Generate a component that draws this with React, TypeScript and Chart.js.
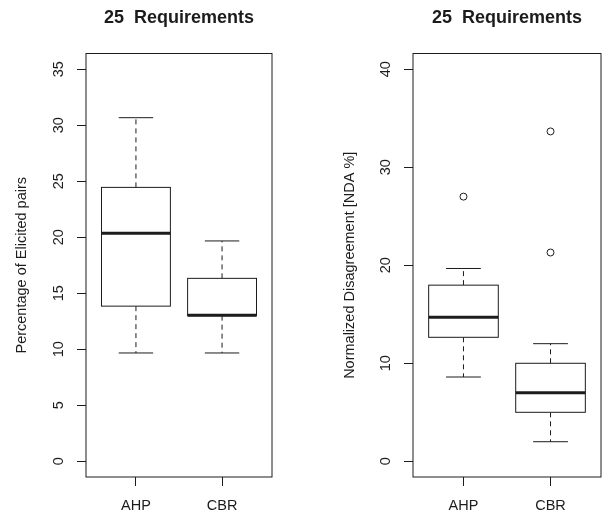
import React, { useEffect, useRef } from 'react';
import { Chart, registerables } from 'chart.js';

Chart.register(...registerables);

const categories = ['AHP', 'CBR'];
const panelTitle = '25  Requirements';

// five-number summaries: [lower whisker, Q1, median, Q3, upper whisker]
const elicitedAHP = [9.67, 13.85, 20.35, 24.45, 30.67];
const elicitedCBR = [9.67, 13.0, 13.03, 16.33, 19.67];
const elicitedOutliersAHP: number[] = [];
const elicitedOutliersCBR: number[] = [];
const elicitedTicks = [0, 5, 10, 15, 20, 25, 30, 35];

const ndaAHP = [8.6, 12.65, 14.7, 17.97, 19.67];
const ndaCBR = [2.0, 5.0, 7.0, 10.0, 12.0];
const ndaOutliersAHP = [27.0];
const ndaOutliersCBR = [21.3, 33.65];
const ndaTicks = [0, 10, 20, 30, 40];

const INK = '#1c1c1c';
const FONT = '"Liberation Sans", Arial, Helvetica, sans-serif';

type Panel = {
  yTitle: string;
  stats: number[][];
  outliers: number[][];
  ticks: number[];
  yWidth: number;
  padRight: number;
  titlePad: number;
};

const boxPlugin = {
  id: 'rbox',
  afterDatasetsDraw(chart: any, _args: any, opts: any) {
    const { ctx, chartArea } = chart;
    const x = chart.scales.x;
    const y = chart.scales.y;
    const stats: number[][] = opts.stats;
    const line = (x1: number, y1: number, x2: number, y2: number) => {
      ctx.beginPath();
      ctx.moveTo(x1, y1);
      ctx.lineTo(x2, y2);
      ctx.stroke();
    };
    ctx.save();
    ctx.strokeStyle = INK;
    ctx.lineWidth = 1;
    stats.forEach((s, i) => {
      const pos = i + 1;
      const xl = x.getPixelForValue(pos - 0.4);
      const xr = x.getPixelForValue(pos + 0.4);
      const xc = x.getPixelForValue(pos);
      const cl = x.getPixelForValue(pos - 0.2);
      const cr = x.getPixelForValue(pos + 0.2);
      const [mn, q1, md, q3, mx] = s.map((v) => y.getPixelForValue(v));
      ctx.setLineDash([5, 4]);
      line(xc, q3, xc, mx);
      line(xc, q1, xc, mn);
      ctx.setLineDash([]);
      line(cl, mx, cr, mx);
      line(cl, mn, cr, mn);
      ctx.fillStyle = '#ffffff';
      ctx.fillRect(xl, q3, xr - xl, q1 - q3);
      ctx.strokeRect(xl, q3, xr - xl, q1 - q3);
      ctx.lineWidth = 3;
      line(xl, md, xr, md);
      ctx.lineWidth = 1;
    });
    ctx.strokeRect(chartArea.left, chartArea.top, chartArea.right - chartArea.left, chartArea.bottom - chartArea.top);
    // rotated y tick labels (R style, las = 0)
    ctx.fillStyle = INK;
    ctx.font = `14.5px ${FONT}`;
    ctx.textAlign = 'center';
    ctx.textBaseline = 'alphabetic';
    (opts.ticks as number[]).forEach((v) => {
      const py = y.getPixelForValue(v);
      const px = chartArea.left - 28 + 0.36 * 14.5;
      ctx.save();
      ctx.translate(px, py);
      ctx.rotate(-Math.PI / 2);
      ctx.fillText(String(v), 0, 0);
      ctx.restore();
    });
    // panel title centred over the plot region
    ctx.font = `bold 18px ${FONT}`;
    ctx.textAlign = 'center';
    ctx.textBaseline = 'alphabetic';
    ctx.fillText(opts.title, (chartArea.left + chartArea.right) / 2, 22.5);
    ctx.restore();
  },
};

function makeChart(canvas: HTMLCanvasElement, p: Panel) {
  const lo = p.ticks[0];
  const hi = p.ticks[p.ticks.length - 1];
  const ext = (hi - lo) * 0.04;
  const outlierData: { x: number; y: number }[] = [];
  p.outliers.forEach((arr, i) => arr.forEach((v) => outlierData.push({ x: i + 1, y: v })));
  return new Chart(canvas, {
    type: 'scatter',
    data: {
      datasets: [
        {
          data: outlierData,
          pointStyle: 'circle',
          pointRadius: 3.5,
          pointBorderWidth: 1,
          pointBorderColor: INK,
          pointBackgroundColor: 'rgba(0,0,0,0)',
        },
      ],
    },
    plugins: [boxPlugin],
    options: {
      responsive: false,
      animation: false,
      events: [],
      layout: { padding: { left: 0, right: p.padRight, top: 53.5, bottom: 0 } },
      plugins: {
        legend: { display: false },
        tooltip: { enabled: false },
        title: { display: false },
        rbox: { stats: p.stats, ticks: p.ticks, title: panelTitle },
      } as any,
      scales: {
        x: {
          type: 'linear',
          min: 0.42,
          max: 2.58,
          afterBuildTicks: (s: any) => {
            s.ticks = categories.map((_, i) => ({ value: i + 1 }));
          },
          afterFit: (s: any) => {
            s.height = 38;
          },
          grid: { display: true, drawOnChartArea: false, drawTicks: true, tickLength: 9, color: INK },
          border: { display: false },
          ticks: {
            callback: (v: any) => categories[Math.round(Number(v)) - 1],
            color: INK,
            font: { family: FONT, size: 14.5 },
            padding: 11,
            autoSkip: false,
            maxRotation: 0,
          },
        },
        y: {
          type: 'linear',
          min: lo - ext,
          max: hi + ext,
          afterBuildTicks: (s: any) => {
            s.ticks = p.ticks.map((v) => ({ value: v }));
          },
          afterFit: (s: any) => {
            s.width = p.yWidth;
          },
          grid: { display: true, drawOnChartArea: false, drawTicks: true, tickLength: 9, color: INK },
          border: { display: false },
          ticks: { display: false },
          title: {
            display: true,
            text: p.yTitle,
            color: INK,
            font: { family: FONT, size: 14.5 },
            padding: { top: p.titlePad, bottom: 0 },
          },
        },
      },
    } as any,
  });
}

export default function App() {
  const leftRef = useRef<HTMLCanvasElement>(null);
  const rightRef = useRef<HTMLCanvasElement>(null);

  useEffect(() => {
    const c1 = makeChart(leftRef.current!, {
      yTitle: 'Percentage of Elicited pairs',
      stats: [elicitedAHP, elicitedCBR],
      outliers: [elicitedOutliersAHP, elicitedOutliersCBR],
      ticks: elicitedTicks,
      yWidth: 86,
      padRight: 31,
      titlePad: 13,
    });
    const c2 = makeChart(rightRef.current!, {
      yTitle: 'Normalized Disagreement [NDA %]',
      stats: [ndaAHP, ndaCBR],
      outliers: [ndaOutliersAHP, ndaOutliersCBR],
      ticks: ndaTicks,
      yWidth: 110,
      padRight: 5,
      titlePad: 38,
    });
    return () => {
      c1.destroy();
      c2.destroy();
    };
  }, []);

  return (
    <div style={{ position: 'absolute', left: 0, top: 0, width: 606, height: 515, display: 'flex', background: '#ffffff' }}>
      <canvas ref={leftRef} width={303} height={515} style={{ display: 'block', width: 303, height: 515 }} />
      <canvas ref={rightRef} width={303} height={515} style={{ display: 'block', width: 303, height: 515 }} />
    </div>
  );
}
